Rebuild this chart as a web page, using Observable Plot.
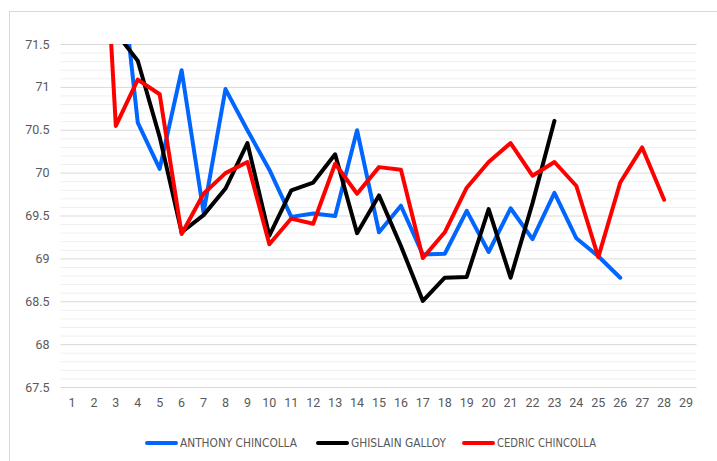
<!DOCTYPE html>
<html>
<head>
<meta charset="utf-8">
<script src="https://cdn.jsdelivr.net/npm/d3@7"></script>
<script src="https://cdn.jsdelivr.net/npm/@observablehq/plot@0.6"></script>
<style>
  html, body { margin: 0; padding: 0; background: #fff; }
  #wrap { position: relative; width: 717px; height: 461px; overflow: hidden; }
  #frame { position: absolute; left: 9px; top: 11px; width: 720px; height: 470px; border: 1px solid #d9d9d9; box-sizing: border-box; }
  #chart { position: absolute; left: 0; top: 0; }
  #legend { position: absolute; left: 0; top: 433.5px; width: 717px; height: 18px;
            font-family: "Liberation Sans Narrow", "DejaVu Sans Condensed", sans-serif; font-size: 13px; color: #595959; }
  .item { position: absolute; top: 0; height: 18px; display: flex; align-items: center; white-space: nowrap; }
  .sw { width: 33px; height: 4px; border-radius: 2px; margin-right: 2px; flex: none; }
  .txt { display: inline-block; transform-origin: 0 50%; }
</style>
</head>
<body>
<div id="wrap">
  <div id="frame"></div>
  <div id="chart"></div>
  <div id="legend"></div>
</div>
<script>
const xLabels = [1,2,3,4,5,6,7,8,9,10,11,12,13,14,15,16,17,18,19,20,21,22,23,24,25,26,27,28,29];
const yTicks = [67.5, 68, 68.5, 69, 69.5, 70, 70.5, 71, 71.5];
const seriesNames = ["ANTHONY CHINCOLLA", "GHISLAIN GALLOY", "CEDRIC CHINCOLLA"];
const seriesColors = ["#0066ff", "#000000", "#ff0000"];

// values per x label (null = no value)
const anthony = [null, null, 72.93, 70.59, 70.05, 71.2, 69.54, 70.98, 70.5, 70.04, 69.49, 69.53, 69.5, 70.5, 69.31,
                 69.62, 69.05, 69.06, 69.56, 69.08, 69.59, 69.23, 69.77, 69.24, 69.03, 68.78, null, null, null];
const ghislain = [null, null, 71.64, 71.31, 70.42, 69.31, 69.51, 69.82, 70.35, 69.27, 69.8, 69.89, 70.22, 69.3, 69.74,
                  69.15, 68.51, 68.78, 68.79, 69.58, 68.78, 69.65, 70.61, null, null, null, null, null, null];
const cedric = [null, 75.1, 70.55, 71.09, 70.92, 69.29, 69.76, 70.0, 70.13, 69.17, 69.47, 69.41, 70.11, 69.76, 70.07,
                70.04, 69.01, 69.31, 69.83, 70.13, 70.35, 69.97, 70.13, 69.85, 69.02, 69.89, 70.3, 69.69, null];

const allSeries = [anthony, ghislain, cedric];
const data = [];
allSeries.forEach((vals, si) => {
  vals.forEach((v, i) => {
    if (v != null) data.push({x: xLabels[i], y: v, series: seriesNames[si]});
  });
});

const minorTicks = d3.range(676, 715).map(d => d / 10).filter(d => !yTicks.includes(d));

const chart = Plot.plot({
  width: 717,
  height: 420,
  marginLeft: 60.5,
  marginRight: 20.5,
  marginTop: 44,
  marginBottom: 33,
  style: {fontFamily: "Roboto, 'Liberation Sans', sans-serif", fontSize: "12.5px", color: "#595959", background: "transparent"},
  x: {type: "linear", domain: [0.5, 29.5], label: null},
  y: {domain: [67.5, 71.5], label: null},
  color: {domain: seriesNames, range: seriesColors},
  marks: [
    Plot.ruleY(minorTicks, {stroke: "#efefef", strokeWidth: 1}),
    Plot.ruleY(yTicks, {stroke: "#d9d9d9", strokeWidth: 1}),
    Plot.axisY({ticks: yTicks, tickSize: 0, tickPadding: 11.5, tickFormat: d => String(d), label: null}),
    Plot.axisX({ticks: xLabels, tickSize: 0, tickPadding: 11, tickFormat: d => String(d), label: null}),
    Plot.line(data, {x: "x", y: "y", z: "series", stroke: "series", strokeWidth: 4,
                     strokeLinejoin: "round", strokeLinecap: "round", clip: true})
  ]
});
document.getElementById("chart").appendChild(chart);

const legend = document.getElementById("legend");
const itemLefts = [145, 316, 462];
const targetWidths = [117, 95, 99];
seriesNames.forEach((name, i) => {
  const item = document.createElement("div");
  item.className = "item";
  item.style.left = itemLefts[i] + "px";
  const sw = document.createElement("div");
  sw.className = "sw";
  sw.style.background = seriesColors[i];
  const t = document.createElement("span");
  t.className = "txt";
  t.textContent = name;
  item.appendChild(sw);
  item.appendChild(t);
  legend.appendChild(item);
  const w = t.getBoundingClientRect().width;
  const k = targetWidths[i] / w;
  t.style.transform = `scaleX(${k})`;
});
</script>
</body>
</html>
